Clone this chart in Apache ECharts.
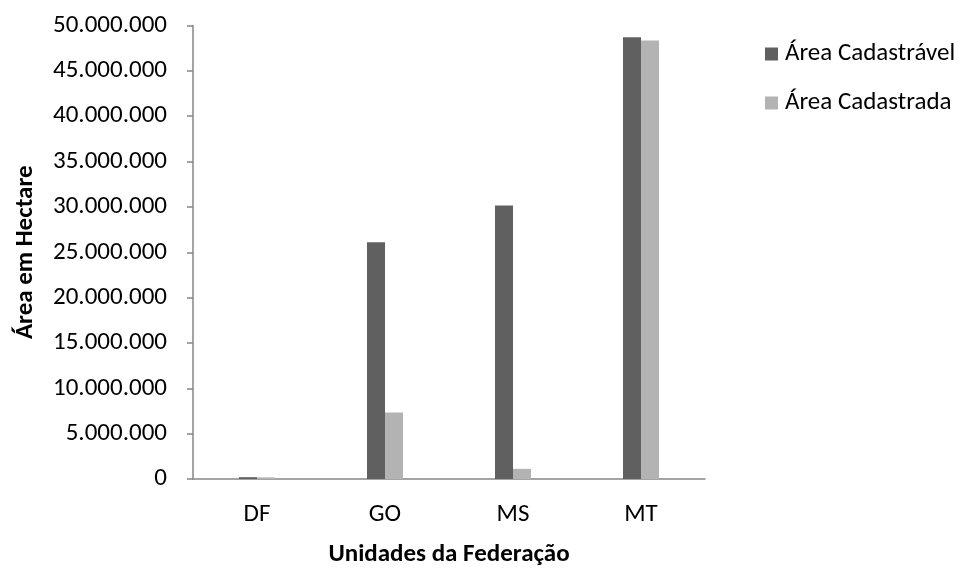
<!DOCTYPE html>
<html>
<head>
<meta charset="utf-8">
<script src="https://cdn.jsdelivr.net/npm/echarts@6/dist/echarts.min.js"></script>
<style>
  html, body { margin: 0; padding: 0; background: #fff; }
  #chart { width: 965px; height: 572px; }
</style>
</head>
<body>
<div id="chart"></div>
<script>
// Unidades da Federação
const categories = ['DF', 'GO', 'MS', 'MT'];
// Área em hectares por UF
const areaCadastravel = [200000, 26100000, 30150000, 48700000];
const areaCadastrada = [180000, 7320000, 1120000, 48350000];
const seriesNames = ['Área Cadastrável', 'Área Cadastrada'];

const FONT = 'Carlito, Calibri, "Liberation Sans", sans-serif';
const FS = 25;

function fmtThousands(v) {
  return String(Math.round(v)).replace(/\B(?=(\d{3})+(?!\d))/g, '.');
}

const chart = echarts.init(document.getElementById('chart'), null, { renderer: 'canvas' });

chart.setOption({
  backgroundColor: '#ffffff',
  animation: false,
  textStyle: { fontFamily: FONT, color: '#000' },
  grid: { left: 193, right: 260, top: 25.5, bottom: 87, containLabel: false },
  legend: {
    orient: 'vertical',
    left: 760,
    top: 36.5,
    itemWidth: 13,
    itemHeight: 13,
    itemGap: 24,
    icon: 'rect',
    data: seriesNames,
    // text sits slightly above the swatch
    textStyle: { fontFamily: FONT, fontSize: FS, color: '#000', padding: [0, 0, 14, 2] }
  },
  xAxis: {
    type: 'category',
    data: categories,
    name: 'Unidades da Federação',
    nameLocation: 'middle',
    nameGap: 63,
    nameTextStyle: { fontFamily: FONT, fontSize: FS, fontWeight: 'bold', color: '#000' },
    axisLine: { show: true, lineStyle: { color: '#868686', width: 1.5 } },
    axisTick: { show: false },
    axisLabel: { fontFamily: FONT, fontSize: FS, color: '#000', margin: 23 },
    splitLine: { show: false }
  },
  yAxis: {
    type: 'value',
    min: 0,
    max: 50000000,
    interval: 5000000,
    name: 'Área em Hectare',
    nameLocation: 'middle',
    nameGap: 155,
    nameRotate: 90,
    nameTextStyle: { fontFamily: FONT, fontSize: FS, fontWeight: 'bold', color: '#000' },
    axisLine: { show: true, lineStyle: { color: '#868686', width: 1.5 } },
    axisTick: { show: true, length: 6, lineStyle: { color: '#868686', width: 1.5 } },
    axisLabel: { fontFamily: FONT, fontSize: FS, color: '#000', margin: 26, formatter: fmtThousands },
    splitLine: { show: false }
  },
  series: [
    {
      name: seriesNames[0],
      type: 'bar',
      data: areaCadastravel,
      barWidth: 18,
      barGap: '0%',
      itemStyle: { color: '#606060' }
    },
    {
      name: seriesNames[1],
      type: 'bar',
      data: areaCadastrada,
      barWidth: 18,
      barGap: '0%',
      itemStyle: { color: '#b3b3b3' }
    }
  ]
});
</script>
</body>
</html>
